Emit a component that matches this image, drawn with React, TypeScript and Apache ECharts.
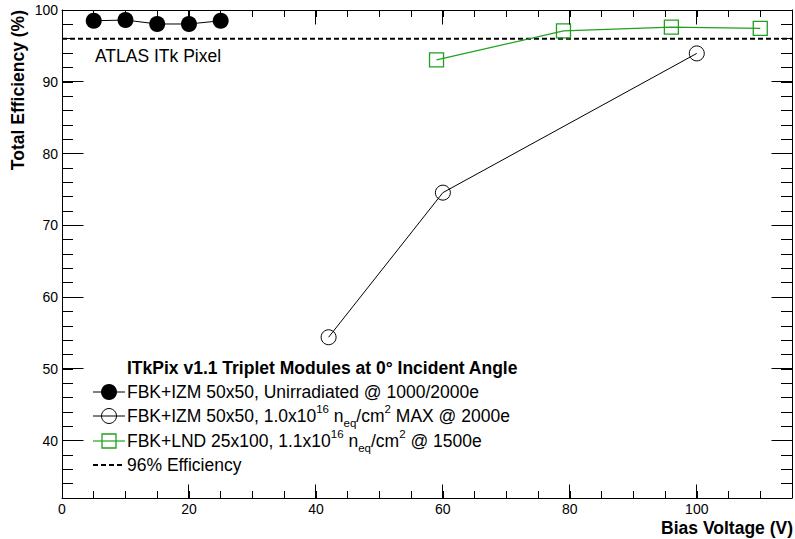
import React, { useEffect, useRef } from 'react';
import * as echarts from 'echarts';

// ---- data ----
const unirrVoltage = [5, 10, 15, 20, 25];
const unirrEff = [98.5, 98.6, 98.05, 98.05, 98.5];
const izmIrrVoltage = [42, 60, 100];
const izmIrrEff = [54.4, 74.55, 93.95];
const lndVoltage = [59, 79, 96, 110];
const lndEff = [93.05, 97.1, 97.6, 97.45];
const thresholdVoltage = [0, 115];
const thresholdEff = [96, 96];
const xMajorTicks = [0, 20, 40, 60, 80, 100];
const yMajorTicks = [40, 50, 60, 70, 80, 90, 100];
const X_MIN = 0;
const X_MAX = 115;
const Y_MIN = 32;
const Y_MAX = 100;

const legendHeader = 'ITkPix v1.1 Triplet Modules at 0\u00b0 Incident Angle';
const GREEN = '#1fa01f';
const FONT = '"Liberation Sans", Arial, Helvetica, sans-serif';

const zip = (xs: number[], ys: number[]) => xs.map((x, i) => [x, ys[i]]);
const px = (v: number) => Math.round(v - 0.5) + 0.5;

// one custom series drawing a long (major) tick at each value, on one side of the frame
const majorTickSeries = (side: 'bottom' | 'top' | 'left' | 'right') => {
  const isX = side === 'bottom' || side === 'top';
  const values = isX ? xMajorTicks : yMajorTicks;
  return {
    type: 'custom',
    clip: false,
    z: 10,
    data: values.map((v) => (isX ? [v, side === 'bottom' ? Y_MIN : Y_MAX] : [side === 'left' ? X_MIN : X_MAX, v])),
    renderItem: (params: any, api: any) => {
      const p = api.coord([api.value(0), api.value(1)]);
      const x = px(p[0]);
      const y = px(p[1]);
      let shape;
      if (side === 'bottom') shape = { x1: x, y1: y, x2: x, y2: y - 14 };
      else if (side === 'top') shape = { x1: x, y1: y, x2: x, y2: y + 14 };
      else if (side === 'left') shape = { x1: x, y1: y, x2: x + 21, y2: y };
      else shape = { x1: x, y1: y, x2: x - 21, y2: y };
      return { type: 'line', shape, style: { stroke: '#000', lineWidth: 1 } };
    },
  };
};

export default function App() {
  const ref = useRef<HTMLDivElement>(null);
  useEffect(() => {
    if (!ref.current) return;
    const chart = echarts.init(ref.current, undefined, { renderer: 'svg' });
    const black = '#000';
    const xAxisDef = (pos: 'bottom' | 'top', labels: boolean) => ({
      type: 'value', position: pos, min: X_MIN, max: X_MAX, interval: 5,
      axisLine: { show: true, onZero: false, lineStyle: { color: black, width: 1 } },
      axisTick: { show: true, inside: true, length: 7, lineStyle: { color: black, width: 1 } },
      axisLabel: labels
        ? { show: true, color: black, fontSize: 14, fontFamily: FONT, margin: 4,
            formatter: (v: number) => (xMajorTicks.includes(v) ? String(v) : '') }
        : { show: false },
      splitLine: { show: false },
    });
    const yAxisDef = (pos: 'left' | 'right', labels: boolean) => ({
      type: 'value', position: pos, min: Y_MIN, max: Y_MAX, interval: 2,
      axisLine: { show: true, onZero: false, lineStyle: { color: black, width: 1 } },
      axisTick: { show: true, inside: true, length: 11, lineStyle: { color: black, width: 1 } },
      axisLabel: labels
        ? { show: true, color: black, fontSize: 14, fontFamily: FONT, margin: 4,
            formatter: (v: number) => (yMajorTicks.includes(v) ? String(v) : '') }
        : { show: false },
      splitLine: { show: false },
    });

    const textStyle = (size: number, bold = false) => ({
      font: `${bold ? 'bold ' : ''}${size}px ${FONT}`,
      fill: black,
    });

    const LX0 = 93, LX1 = 125, LMX = 109, LTX = 127;
    const rows = [392, 416, 441, 465];
    const rich = {
      n: { fontSize: 17.5, fontFamily: FONT, color: black, lineHeight: 26, verticalAlign: 'middle' },
      sup: { fontSize: 11.5, fontFamily: FONT, color: black, lineHeight: 26, verticalAlign: 'top' },
      sub: { fontSize: 11.5, fontFamily: FONT, color: black, lineHeight: 26, verticalAlign: 'bottom' },
    };

    chart.setOption({
      animation: false,
      backgroundColor: '#fff',
      grid: { left: 62, right: 3, top: 10, bottom: 41, containLabel: false },
      xAxis: [xAxisDef('bottom', true), xAxisDef('top', false)],
      yAxis: [yAxisDef('left', true), yAxisDef('right', false)],
      series: [
        majorTickSeries('bottom'),
        majorTickSeries('top'),
        majorTickSeries('left'),
        majorTickSeries('right'),
        {
          type: 'line', name: 'threshold', data: zip(thresholdVoltage, thresholdEff),
          symbol: 'none', lineStyle: { color: black, width: 2, type: [5, 3] }, z: 2,
        },
        {
          type: 'line', name: 'unirr', data: zip(unirrVoltage, unirrEff),
          symbol: 'circle', symbolSize: 16,
          itemStyle: { color: black }, lineStyle: { color: black, width: 1 }, z: 3,
        },
        {
          type: 'line', name: 'izmIrr', data: zip(izmIrrVoltage, izmIrrEff),
          symbol: 'circle', symbolSize: 15,
          itemStyle: { color: 'rgba(0,0,0,0)', borderColor: black, borderWidth: 1 },
          lineStyle: { color: black, width: 1 }, z: 3,
        },
        {
          type: 'line', name: 'lnd', data: zip(lndVoltage, lndEff),
          symbol: 'rect', symbolSize: 14,
          itemStyle: { color: 'rgba(0,0,0,0)', borderColor: GREEN, borderWidth: 1.3 },
          lineStyle: { color: GREEN, width: 1.2 }, z: 3,
        },
      ],
      graphic: [
        { type: 'text', x: 95, y: 56, style: { ...textStyle(17.5), text: 'ATLAS ITk Pixel', verticalAlign: 'middle' } },
        { type: 'text', x: 18, y: 10, rotation: Math.PI / 2,
          style: { ...textStyle(17.5, true), text: 'Total Efficiency (%)', align: 'right', verticalAlign: 'middle' } },
        { type: 'text', x: 793, y: 528,
          style: { ...textStyle(17.5, true), text: 'Bias Voltage (V)', align: 'right', verticalAlign: 'middle' } },
        // legend
        { type: 'text', x: LTX, y: 368, style: { ...textStyle(17.5, true), text: legendHeader, verticalAlign: 'middle' } },
        { type: 'line', shape: { x1: LX0, y1: rows[0], x2: LX1, y2: rows[0] }, style: { stroke: black, lineWidth: 1 } },
        { type: 'circle', shape: { cx: LMX, cy: rows[0], r: 8 }, style: { fill: black } },
        { type: 'text', x: LTX, y: rows[0],
          style: { text: '{n|FBK+IZM 50x50, Unirradiated @ 1000/2000e}', rich, verticalAlign: 'middle' } },
        { type: 'line', shape: { x1: LX0, y1: rows[1], x2: LX1, y2: rows[1] }, style: { stroke: black, lineWidth: 1 } },
        { type: 'circle', shape: { cx: LMX, cy: rows[1], r: 7.5 }, style: { fill: 'none', stroke: black, lineWidth: 1 } },
        { type: 'text', x: LTX, y: rows[1],
          style: { text: '{n|FBK+IZM 50x50, 1.0x10}{sup|16}{n| n}{sub|eq}{n|/cm}{sup|2}{n| MAX @ 2000e}', rich, verticalAlign: 'middle' } },
        { type: 'line', shape: { x1: LX0, y1: rows[2], x2: LX1, y2: rows[2] }, style: { stroke: GREEN, lineWidth: 1.2 } },
        { type: 'rect', shape: { x: LMX - 7, y: rows[2] - 7, width: 14, height: 14 }, style: { fill: 'none', stroke: GREEN, lineWidth: 1.3 } },
        { type: 'text', x: LTX, y: rows[2],
          style: { text: '{n|FBK+LND 25x100, 1.1x10}{sup|16}{n| n}{sub|eq}{n|/cm}{sup|2}{n| @ 1500e}', rich, verticalAlign: 'middle' } },
        { type: 'line', shape: { x1: LX0, y1: rows[3], x2: LX1, y2: rows[3] }, style: { stroke: black, lineWidth: 2, lineDash: [5, 3] } },
        { type: 'text', x: LTX, y: rows[3], style: { ...textStyle(17.5), text: '96% Efficiency', verticalAlign: 'middle' } },
      ],
    });
    return () => chart.dispose();
  }, []);
  return (
    <div
      ref={ref}
      style={{ position: 'fixed', left: 0, top: 0, width: 795, height: 539, background: '#fff' }}
    />
  );
}
